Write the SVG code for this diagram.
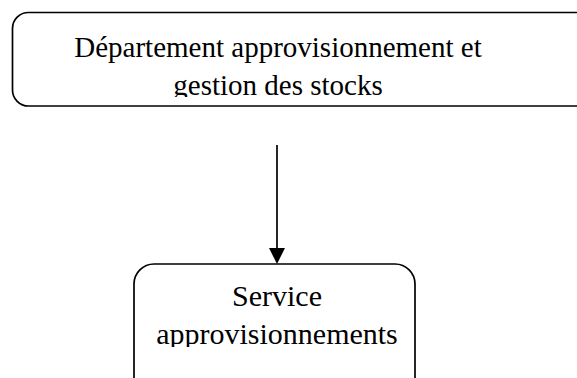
<svg xmlns="http://www.w3.org/2000/svg" width="577" height="378" viewBox="0 0 577 378">
  <style>
    .box { fill: #ffffff; stroke: #000000; stroke-width: 1.7; }
    .label { font-family: "Liberation Serif", "Times New Roman", serif; fill: #000000; text-anchor: middle; }
    .top { font-size: 29px; }
    .bottom { font-size: 30px; }
    .conn { stroke: #000000; stroke-width: 1.7; fill: none; }
  </style>
  <defs>
    <clipPath id="clipTop"><rect x="12" y="12" width="600" height="85"/></clipPath>
    <clipPath id="clipBottom"><rect x="134" y="264" width="300" height="83"/></clipPath>
  </defs>
  <g id="node-departement">
    <rect class="box" x="12.5" y="12.5" width="600" height="93.5" rx="16" ry="16"/>
    <g clip-path="url(#clipTop)">
      <text class="label top" x="278" y="57">Département approvisionnement et</text>
      <text class="label top" x="278" y="95">gestion des stocks</text>
    </g>
  </g>
  <g id="node-service">
    <rect class="box" x="134" y="264" width="281" height="150" rx="20" ry="20"/>
    <g clip-path="url(#clipBottom)">
      <text class="label bottom" x="277" y="306">Service</text>
      <text class="label bottom" x="277" y="344">approvisionnements</text>
    </g>
  </g>
  <g id="connectors">
    <line class="conn" x1="277" y1="145" x2="277" y2="250"/>
    <path d="M269,248 L285,248 L277,264 Z" fill="#000000"/>
  </g>
</svg>
